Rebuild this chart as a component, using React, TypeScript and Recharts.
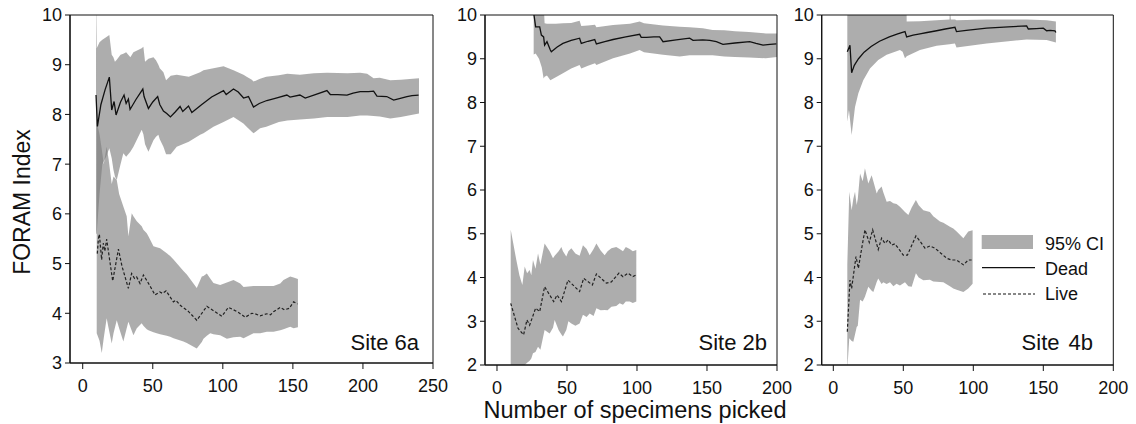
import React from 'react'
import { ComposedChart, Area, Line, XAxis, YAxis, ReferenceArea, Legend } from 'recharts'

// [x, value] for the mean lines, [x, lower, upper] for the 95% CI bands
type Pt = [number, number]
type Band = [number, number, number]

const site6aDeadLine: Pt[] = [
  [9.5, 8.39], [10.5, 7.76], [13, 8.2], [16, 8.5], [19, 8.75], [20.7, 8.09], [22.4, 8.26], [23.8, 7.99],
  [27, 8.25], [29.5, 8.39], [31, 8.22], [32.6, 8.31], [33.8, 8.1], [38, 8.3], [42.9, 8.51], [43.8, 8.36],
  [46.9, 8.12], [50, 8.25], [53.5, 8.36], [55, 8.2], [57.6, 8.07], [60, 8.02], [62.6, 7.95], [66, 8.05],
  [69.5, 8.16], [71.4, 8.06], [75.5, 8.17], [77.9, 8.04], [85, 8.2], [92, 8.35], [100.5, 8.48], [102.4, 8.4],
  [107.6, 8.51], [111, 8.45], [114.8, 8.33], [118.3, 8.36], [121.9, 8.15], [126, 8.22], [131.4, 8.28],
  [138, 8.33], [145.7, 8.39], [148, 8.35], [155, 8.39], [158.8, 8.33], [166, 8.4], [174.3, 8.48], [176.7, 8.4],
  [182, 8.4], [188.6, 8.39], [193, 8.43], [198, 8.46], [204, 8.46], [207.6, 8.47], [210, 8.37], [217, 8.36],
  [221.9, 8.29], [226, 8.32], [231.4, 8.36], [235, 8.38], [239.7, 8.39],
]

const site6aDeadCi: Band[] = [
  [9.5, 5.6, 10.5], [10, 5.6, 9.33], [12, 6.4, 9.45], [14, 7.0, 9.5], [16.7, 7.15, 9.55], [19, 7.32, 9.6],
  [20.7, 7.12, 9.2], [21.9, 6.89, 9.15], [23, 6.75, 9.06], [24.3, 6.68, 9.1], [27, 7.0, 9.2], [29, 7.22, 9.22],
  [31, 7.15, 9.25], [34, 7.25, 9.15], [36.2, 7.35, 9.25], [42.1, 7.69, 9.33], [43.3, 7.6, 9.36], [44.5, 7.4, 9.06],
  [46.9, 7.25, 9.12], [50.5, 7.48, 9.15], [52.3, 7.55, 9.09], [54, 7.59, 9.0], [55, 7.5, 8.93], [57.6, 7.35, 8.85],
  [59.5, 7.2, 8.69], [62.8, 7.2, 8.78], [67.1, 7.35, 8.8], [75.7, 7.45, 8.76], [83.8, 7.59, 8.85], [86.2, 7.62, 8.89],
  [93.3, 7.75, 8.93], [100.5, 7.85, 8.97], [107.6, 7.95, 8.89], [114.7, 7.82, 8.8], [117, 7.75, 8.76],
  [120.7, 7.65, 8.7], [121.9, 7.62, 8.66], [126.6, 7.72, 8.72], [131, 7.75, 8.76], [140, 7.85, 8.79],
  [146, 7.88, 8.82], [155, 7.9, 8.8], [165, 7.92, 8.83], [174.5, 7.95, 8.84], [189, 7.95, 8.83], [198, 7.98, 8.84],
  [203, 7.98, 8.82], [207.6, 7.97, 8.73], [212, 7.96, 8.74], [219.5, 7.92, 8.69], [227, 7.95, 8.7], [240, 8.02, 8.73],
]

const site6aLiveLine: Pt[] = [
  [10.4, 5.2], [11.2, 5.5], [11.9, 5.59], [13.5, 5.08], [14.7, 5.41], [15.8, 5.25], [17.1, 5.49], [21.4, 4.65],
  [25.5, 5.29], [28, 4.95], [32.6, 4.5], [34.9, 4.8], [37, 4.7], [38.5, 4.73], [40.9, 4.6], [43.3, 4.77],
  [47, 4.6], [51.6, 4.37], [55, 4.43], [57, 4.4], [59.5, 4.45], [64.7, 4.23], [66.5, 4.26], [70, 4.15],
  [75, 4.05], [81.4, 3.86], [88.6, 4.14], [94, 4.04], [99.3, 3.94], [104, 4.12], [107, 4.08], [111, 4.02],
  [116, 3.92], [120.7, 4.0], [123, 3.99], [126.6, 3.95], [131.4, 3.99], [134, 3.97], [136.2, 4.03], [141, 4.12],
  [144, 4.07], [147.4, 4.1], [150.5, 4.23], [153.3, 4.19],
]

const site6aLiveCi: Band[] = [
  [10, 3.6, 7.85], [12, 3.45, 7.6], [13.6, 3.2, 7.3], [15, 3.5, 7.0], [17.1, 3.9, 7.35], [18.5, 3.7, 7.1],
  [20.7, 3.39, 6.6], [22, 3.6, 6.75], [24.3, 3.86, 6.68], [26, 3.7, 6.4], [29, 3.43, 6.15], [31.4, 3.7, 5.95],
  [32.6, 3.83, 5.55], [35, 3.65, 6.01], [36.2, 3.56, 5.95], [38.6, 3.7, 5.85], [42.1, 3.8, 5.75], [43.3, 3.75, 5.68],
  [45.7, 3.68, 5.61], [46.9, 3.66, 5.55], [50.5, 3.62, 5.35], [52.8, 3.6, 5.33], [55.2, 3.58, 5.31], [60, 3.55, 5.21],
  [62.4, 3.53, 5.15], [64.8, 3.5, 5.08], [71.9, 3.43, 4.85], [74.3, 3.4, 4.78], [81.4, 3.29, 4.51], [85, 3.42, 4.74],
  [86.2, 3.49, 4.75], [88.6, 3.55, 4.8], [91, 3.6, 4.7], [93.3, 3.58, 4.61], [98.1, 3.56, 4.57], [102.9, 3.49, 4.62],
  [107.6, 3.52, 4.67], [112.4, 3.53, 4.6], [114.8, 3.5, 4.53], [121.9, 3.6, 4.55], [126.7, 3.6, 4.55],
  [131.4, 3.63, 4.55], [136.2, 3.63, 4.55], [141, 3.66, 4.6], [143.3, 3.68, 4.67], [148.1, 3.73, 4.74],
  [150.5, 3.7, 4.72], [153.6, 3.72, 4.69],
]

const site2bDeadLine: Pt[] = [
  [26.2, 10.05], [27.6, 9.73], [30.5, 9.73], [31.7, 9.54], [33.3, 9.5], [34, 9.31], [35.7, 9.39], [38.1, 9.2],
  [38.8, 9.16], [43, 9.27], [47.1, 9.35], [53, 9.42], [59, 9.47], [60.2, 9.35], [65, 9.4], [69.8, 9.44],
  [71, 9.34], [77, 9.39], [82.9, 9.44], [92, 9.5], [101.9, 9.56], [103, 9.49], [106.7, 9.49], [112, 9.5],
  [116.2, 9.5], [118.6, 9.39], [128, 9.43], [137.6, 9.47], [140, 9.42], [147, 9.43], [152, 9.42], [156.7, 9.39],
  [161.4, 9.33], [170, 9.36], [180.5, 9.39], [185, 9.35], [190, 9.31], [195, 9.33], [199.5, 9.34],
]

const site2bDeadCi: Band[] = [
  [26.2, 9.1, 10.5], [27.6, 9.12, 10.5], [30, 9.0, 10.5], [32, 8.8, 10.5], [33.3, 8.55, 10.3], [34, 8.59, 9.81],
  [35.7, 8.62, 9.8], [38.1, 8.51, 9.8], [42, 8.58, 9.8], [47.1, 8.67, 9.81], [53, 8.78, 9.82], [59, 8.86, 9.87],
  [60.2, 8.78, 9.75], [65, 8.84, 9.76], [70, 8.9, 9.78], [71, 8.86, 9.72], [82.9, 9.01, 9.77], [95, 9.12, 9.8],
  [101.9, 9.2, 9.85], [105, 9.15, 9.81], [118.6, 9.09, 9.76], [130.5, 9.05, 9.73], [137.6, 9.08, 9.72],
  [147, 9.08, 9.7], [154, 9.08, 9.66], [162.4, 9.05, 9.65], [170, 9.04, 9.63], [180, 9.03, 9.61],
  [192, 9.01, 9.58], [200, 9.04, 9.58],
]

const site2bLiveLine: Pt[] = [
  [9.8, 3.41], [15, 2.84], [19, 2.69], [21.4, 3.03], [23.3, 2.91], [27.6, 3.3], [30.5, 3.22], [34, 3.79],
  [40.5, 3.45], [42.9, 3.6], [46, 3.45], [50.7, 3.94], [59, 3.68], [61.9, 3.98], [68.1, 3.83], [71, 4.08],
  [78.1, 3.87], [81.7, 3.9], [87.1, 4.1], [90, 4.02], [93.6, 4.1], [97.1, 4.02], [99.5, 4.06],
]

const site2bLiveCi: Band[] = [
  [9.8, 1.8, 5.09], [11.5, 1.8, 4.8], [13.8, 1.85, 4.4], [16, 1.9, 4.05], [18.1, 1.95, 3.83], [19.8, 2.0, 4.25],
  [21.5, 2.05, 4.1], [23.3, 2.1, 4.17], [24.5, 2.15, 4.05], [25.7, 2.27, 4.4], [27.5, 2.3, 4.2], [29.3, 2.42, 4.55],
  [31, 2.35, 4.3], [34, 2.8, 4.78], [37.6, 2.72, 4.6], [40, 2.85, 4.44], [41.2, 3.03, 4.5], [44, 2.8, 4.6],
  [46, 2.7, 4.7], [47.1, 2.65, 4.6], [49.5, 2.8, 4.48], [51, 3.0, 4.6], [53.1, 2.95, 4.67], [56, 2.9, 4.55],
  [59, 2.95, 4.5], [61.4, 3.15, 4.74], [64, 3.1, 4.65], [66.2, 3.18, 4.51], [69, 3.12, 4.65], [71, 3.3, 4.78],
  [74, 3.25, 4.62], [76.9, 3.26, 4.51], [79, 3.25, 4.6], [81.7, 3.33, 4.67], [85.2, 3.35, 4.7], [87.6, 3.41, 4.65],
  [90, 3.38, 4.6], [92, 3.45, 4.7], [94.8, 3.45, 4.65], [97, 3.42, 4.6], [99.5, 3.45, 4.63],
]

const site4bDeadLine: Pt[] = [
  [10, 9.16], [11.9, 9.31], [13.1, 8.68], [15, 8.85], [18, 9.0], [22, 9.15], [27, 9.28], [33, 9.4],
  [40, 9.5], [46, 9.57], [51.2, 9.62], [52.4, 9.5], [57, 9.54], [61.9, 9.57], [67, 9.6], [73.8, 9.64],
  [80, 9.68], [86.9, 9.72], [88, 9.62], [95, 9.65], [109.5, 9.7], [125, 9.73], [138.1, 9.75], [139.3, 9.68],
  [145, 9.69], [150, 9.7], [152.4, 9.64], [155, 9.65], [158.3, 9.64], [159, 9.6],
]

const site4bDeadCi: Band[] = [
  [10, 7.56, 10.5], [11.2, 7.83, 10.5], [13.1, 7.26, 10.5], [15.5, 7.9, 10.5], [17.9, 8.21, 10.5],
  [21.4, 8.51, 10.5], [26.2, 8.78, 10.5], [32.1, 8.97, 10.5], [38.1, 9.09, 10.5], [47.6, 9.2, 10.5],
  [49.5, 9.16, 10.5], [51.2, 9.01, 10.5], [52.3, 9.05, 10.5], [52.4, 9.06, 9.85], [61.9, 9.2, 9.86],
  [73.8, 9.3, 9.88], [83, 9.33, 9.9], [83.3, 9.33, 10.1], [84, 9.34, 9.9], [86.9, 9.35, 9.9], [88, 9.26, 9.88],
  [109.5, 9.35, 9.9], [138.1, 9.44, 9.9], [152.4, 9.43, 9.88], [159, 9.37, 9.85],
]

const site4bLiveLine: Pt[] = [
  [10, 2.76], [11.9, 3.94], [13.1, 3.75], [16.2, 4.48], [17.9, 4.21], [20.3, 4.67], [22.6, 5.09], [25.7, 4.8],
  [28.1, 5.09], [32.1, 4.64], [34.5, 4.9], [36.9, 4.78], [39.3, 4.86], [41.7, 4.74], [44, 4.77], [46.4, 4.67],
  [50, 4.51], [52.9, 4.51], [59, 4.95], [61.9, 4.83], [65.5, 4.67], [69, 4.72], [72.6, 4.67], [77, 4.55],
  [81, 4.44], [84.5, 4.4], [88, 4.4], [92.9, 4.29], [96.4, 4.4], [98.8, 4.4],
]

const site4bLiveCi: Band[] = [
  [10, 1.9, 4.3], [11.4, 2.61, 5.96], [13.1, 2.55, 5.54], [14.3, 2.53, 5.8], [15.5, 2.7, 5.96], [16.7, 2.87, 5.66],
  [17.5, 2.9, 5.8], [19.1, 3.49, 6.38], [21, 3.45, 6.2], [22.6, 3.56, 6.5], [25, 3.79, 6.15], [27.4, 3.7, 6.34],
  [28.6, 3.67, 6.2], [31, 3.9, 5.92], [32.1, 3.98, 6.0], [34.5, 3.85, 6.08], [35.7, 3.89, 5.95], [38.1, 3.85, 5.73],
  [40.5, 3.89, 5.75], [42.9, 3.8, 5.7], [45.2, 3.86, 5.68], [47.6, 3.82, 5.62], [51.2, 3.89, 5.5], [53.6, 3.8, 5.43],
  [56, 3.79, 5.6], [59, 4.1, 5.77], [61, 4.0, 5.65], [64.3, 3.94, 5.54], [69, 3.95, 5.5], [71.4, 3.91, 5.4],
  [76.2, 3.9, 5.28], [78.6, 3.89, 5.25], [83.3, 3.8, 5.16], [85.7, 3.75, 5.12], [88.1, 3.72, 5.05], [92.9, 3.67, 4.9],
  [96.4, 3.75, 5.05], [99.5, 3.86, 5.08],
]

const ticks6a = [0, 50, 100, 150, 200, 250]
const ticks200 = [0, 50, 100, 150, 200]
const yTicks6a = [3, 4, 5, 6, 7, 8, 9, 10]
const yTicks2to10 = [2, 3, 4, 5, 6, 7, 8, 9, 10]

const FONT = '"Liberation Sans", Arial, Helvetica, sans-serif'
const BAND = '#7a7a7a'

const toLine = (pts: Pt[]) => pts.map(([x, y]) => ({ x, y }))
const toBand = (pts: Band[]) => pts.map(([x, lo, hi]) => ({ x, ci: [lo, hi] }))

function CiLegend() {
  return (
    <svg width={140} height={80} style={{ fontFamily: FONT }}>
      <rect x={1.7} y={7} width={51.3} height={14} fill="#acacac" />
      <text x={65} y={22} fontSize={18} fill="#111">95% CI</text>
      <line x1={2} x2={55} y1={39.7} y2={39.7} stroke="#111" strokeWidth={1.3} />
      <text x={65} y={47} fontSize={18} fill="#111">Dead</text>
      <line x1={3} x2={55} y1={66} y2={66} stroke="#111" strokeWidth={1.2} strokeDasharray="3 2" />
      <text x={65} y={72} fontSize={18} fill="#111">Live</text>
    </svg>
  )
}

interface PanelProps {
  width: number
  margin: { top: number; right: number; left: number; bottom: number }
  xDomain: [number, number]
  yDomain: [number, number]
  xTicks: number[]
  yTicks: number[]
  deadLine: Pt[]
  deadCi: Band[]
  liveLine: Pt[]
  liveCi: Band[]
  legend?: boolean
}

function Panel(p: PanelProps) {
  const tick = { fill: '#111', fontSize: 18, fontFamily: FONT }
  return (
    <ComposedChart width={p.width} height={424} margin={p.margin}>
      <XAxis
        type="number"
        dataKey="x"
        domain={p.xDomain}
        ticks={p.xTicks}
        interval={0}
        allowDataOverflow
        height={30}
        tickSize={6}
        tickMargin={10}
        tick={tick}
        axisLine={{ stroke: '#111', strokeWidth: 1.2 }}
        tickLine={{ stroke: '#111' }}
      />
      <YAxis
        type="number"
        domain={p.yDomain}
        ticks={p.yTicks}
        interval={0}
        allowDataOverflow
        width={40}
        tickSize={5}
        tickMargin={3}
        tick={tick}
        axisLine={{ stroke: '#111', strokeWidth: 1.2 }}
        tickLine={{ stroke: '#111' }}
      />
      <Area data={toBand(p.deadCi)} dataKey="ci" type="linear" stroke="none" fill={BAND} fillOpacity={0.62} isAnimationActive={false} />
      <Area data={toBand(p.liveCi)} dataKey="ci" type="linear" stroke="none" fill={BAND} fillOpacity={0.62} isAnimationActive={false} />
      <Line data={toLine(p.deadLine)} dataKey="y" type="linear" stroke="#111" strokeWidth={1.3} dot={false} isAnimationActive={false} />
      <Line data={toLine(p.liveLine)} dataKey="y" type="linear" stroke="#222" strokeWidth={1.2} strokeDasharray="3 2" dot={false} isAnimationActive={false} />
      <ReferenceArea x1={p.xDomain[0]} x2={p.xDomain[1]} y1={p.yDomain[0]} y2={p.yDomain[1]} fill="none" stroke="#111" strokeWidth={1} />
      {p.legend && (
        <Legend
          layout="vertical"
          align="center"
          verticalAlign="middle"
          content={() => <CiLegend />}
          wrapperStyle={{ position: 'absolute', left: 200, top: 228, width: 140, height: 80 }}
        />
      )}
    </ComposedChart>
  )
}

export default function App() {
  return (
    <div style={{ position: 'absolute', left: 0, top: 0, width: 1136, height: 424, background: '#fff', fontFamily: FONT }}>
      <div style={{ position: 'absolute', left: 0, top: 0 }}>
        <Panel
          width={460}
          margin={{ top: 15, right: 27, left: 30, bottom: 31 }}
          xDomain={[-9.07, 250]}
          yDomain={[3, 10]}
          xTicks={ticks6a}
          yTicks={yTicks6a}
          deadLine={site6aDeadLine}
          deadCi={site6aDeadCi}
          liveLine={site6aLiveLine}
          liveCi={site6aLiveCi}
        />
      </div>
      <div style={{ position: 'absolute', left: 440, top: 0 }}>
        <Panel
          width={365}
          margin={{ top: 15, right: 28, left: 5, bottom: 29 }}
          xDomain={[-8.57, 200]}
          yDomain={[2, 10]}
          xTicks={ticks200}
          yTicks={yTicks2to10}
          deadLine={site2bDeadLine}
          deadCi={site2bDeadCi}
          liveLine={site2bLiveLine}
          liveCi={site2bLiveCi}
        />
      </div>
      <div style={{ position: 'absolute', left: 780, top: 0 }}>
        <Panel
          width={356}
          margin={{ top: 15, right: 22.7, left: 1.7, bottom: 29 }}
          xDomain={[-8.29, 200]}
          yDomain={[2, 10]}
          xTicks={ticks200}
          yTicks={yTicks2to10}
          deadLine={site4bDeadLine}
          deadCi={site4bDeadCi}
          liveLine={site4bLiveLine}
          liveCi={site4bLiveCi}
          legend
        />
      </div>
      <svg width={1136} height={424} style={{ position: 'absolute', left: 0, top: 0, pointerEvents: 'none' }} fontFamily={FONT} fill="#111">
        <text x={30} y={202} fontSize={23} textAnchor="middle" transform="rotate(-90, 30, 202)">FORAM Index</text>
        <text x={635} y={418} fontSize={23.5} textAnchor="middle">Number of specimens picked</text>
        <text x={419} y={350} fontSize={22} textAnchor="end">Site 6a</text>
        <text x={767} y={350} fontSize={22} textAnchor="end">Site 2b</text>
        <text x={1093} y={350} fontSize={22} textAnchor="end">
          <tspan>Site</tspan>
          <tspan dx={9}>4b</tspan>
        </text>
      </svg>
    </div>
  )
}
